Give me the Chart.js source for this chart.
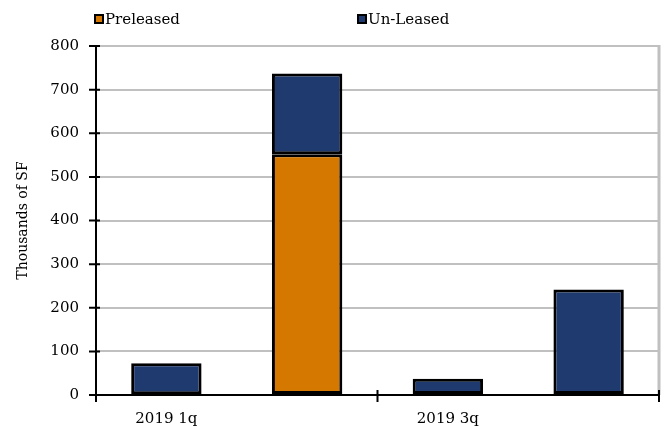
<!DOCTYPE html>
<html>
<head>
<meta charset="utf-8">
<script src="https://cdn.jsdelivr.net/npm/chart.js@4"></script>
<style>
  body { margin: 0; background: #fff; }
  #wrap { position: relative; width: 670px; height: 427px; }
  #legend { position: absolute; top: 10px; left: 0; width: 670px; height: 18px; font-family: "DejaVu Serif", serif; font-size: 15px; color: #000; }
  .item { position: absolute; top: 0; white-space: nowrap; line-height: 18px; }
  .box { display: inline-block; width: 6px; height: 6px; border: 2px solid #000; margin-right: 1px; vertical-align: 0px; }
</style>
</head>
<body>
<div id="wrap">
  <canvas id="grafico" width="670" height="427"></canvas>
  <div id="legend"></div>
</div>
<script>
var categorias = ['2019 1q', '2019 2q', '2019 3q', '2019 4q'];
var preleased = [2, 552, 0, 0];
var unleased = [71, 185, 37, 242];
var nomesSeries = ['Preleased', 'Un-Leased'];
var coresSeries = ['#d47800', '#1f3a6f'];
var legendaX = [94, 357];

// legenda
var legend = document.getElementById('legend');
for (var i = 0; i < nomesSeries.length; i++) {
	var item = document.createElement('div');
	item.className = 'item';
	item.style.left = legendaX[i] + 'px';
	item.innerHTML = '<span class="box" style="background:' + coresSeries[i] + '"></span>' + nomesSeries[i];
	legend.appendChild(item);
}

// marcas cruzando os eixos + borda direita
var marcas = {
	id: 'marcas',
	afterDraw: function(chart) {
		var ctx = chart.ctx;
		var area = chart.chartArea;
		var y = chart.scales.y;
		var x = chart.scales.x;
		ctx.save();
		ctx.strokeStyle = '#c0c0c0';
		ctx.lineWidth = 3;
		ctx.beginPath();
		ctx.moveTo(area.right, area.top - 1);
		ctx.lineTo(area.right, area.bottom);
		ctx.stroke();

		ctx.strokeStyle = '#000';
		ctx.lineWidth = 2;
		ctx.beginPath();
		ctx.moveTo(area.left, area.top);
		ctx.lineTo(area.left, area.bottom);
		ctx.lineTo(area.right + 1, area.bottom);
		ctx.stroke();

		ctx.beginPath();
		for (var i = 0; i < y.ticks.length; i++) {
			var py = y.getPixelForValue(y.ticks[i].value);
			ctx.moveTo(area.left - 7, py);
			ctx.lineTo(area.left + 4, py);
		}
		var passo = x.getPixelForValue(1) - x.getPixelForValue(0);
		for (var j = 0; j <= categorias.length; j += 2) {
			var px = x.getPixelForValue(0) - passo / 2 + j * passo;
			ctx.moveTo(px, area.bottom - 5);
			ctx.lineTo(px, area.bottom + 7);
		}
		ctx.stroke();
		ctx.restore();
	}
};

var ctx = document.getElementById('grafico').getContext('2d');
var chart = new Chart(ctx, {
	type: 'bar',
	data: {
		labels: categorias,
		datasets: [{
			label: nomesSeries[0],
			data: preleased,
			backgroundColor: coresSeries[0],
			borderColor: '#000',
			borderWidth: 3,
			borderSkipped: false
		}, {
			label: nomesSeries[1],
			data: unleased,
			backgroundColor: coresSeries[1],
			borderColor: '#000',
			borderWidth: 3,
			borderSkipped: false
		}]
	},
	options: {
		responsive: false,
		animation: false,
		layout: { padding: { top: 46, right: 11, left: 0, bottom: 0 } },
		plugins: {
			legend: { display: false },
			tooltip: { enabled: false }
		},
		datasets: { bar: { barPercentage: 0.5, categoryPercentage: 1 } },
		scales: {
			x: {
				stacked: true,
				grid: { display: false, drawTicks: false },
				border: { display: false },
				afterFit: function(scale) { scale.height = 32; },
				ticks: {
					padding: 15,
					color: '#000',
					maxRotation: 0,
					autoSkip: false,
					font: { family: 'DejaVu Serif', size: 15 },
					callback: function(value, index) {
						return index % 2 == 0 ? categorias[index] : '';
					}
				}
			},
			y: {
				stacked: true,
				min: 0,
				max: 800,
				afterFit: function(scale) { scale.width = 96; },
				grid: { color: '#c0c0c0', lineWidth: 2, drawTicks: false },
				border: { display: false },
				ticks: {
					stepSize: 100,
					padding: 17,
					color: '#000',
					font: { family: 'DejaVu Serif', size: 15 }
				},
				title: {
					display: true,
					text: 'Thousands of SF',
					color: '#000',
					padding: { top: 15, bottom: 0 },
					font: { family: 'DejaVu Serif', size: 14 }
				}
			}
		}
	},
	plugins: [marcas]
});
</script>
</body>
</html>
